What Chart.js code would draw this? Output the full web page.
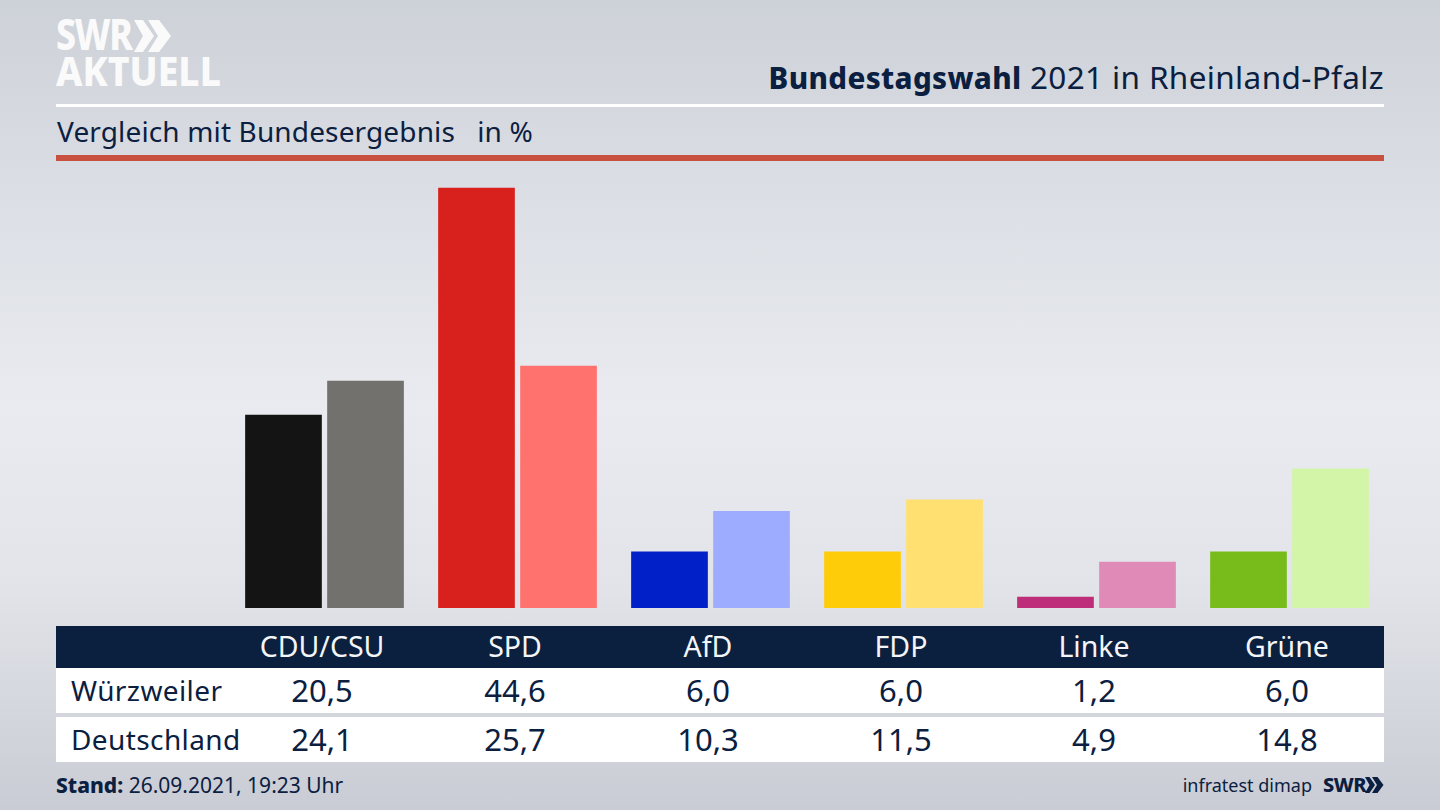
<!DOCTYPE html>
<html lang="de">
<head>
<meta charset="utf-8">
<title>Bundestagswahl 2021 in Rheinland-Pfalz</title>
<script src="https://cdn.jsdelivr.net/npm/chart.js@4"></script>
<style>
  html, body { margin: 0; padding: 0; }
  body {
    position: relative; width: 1440px; height: 810px; overflow: hidden;
    font-family: "Noto Sans", sans-serif; color: #0b2040;
    background: linear-gradient(180deg, #cdd1d8 0%, #dcdfe5 25%, #e9ebf0 50%, #e2e4e9 72%, #c9ccd4 100%);
  }
  .abs { position: absolute; white-space: nowrap; }
  .logo { left: 56px; color: #fafafa; font-weight: 800; line-height: 40px; transform-origin: left; }
  #logoSwr { top: 14px; font-size: 43px; letter-spacing: -1.5px; transform: scaleX(.83); }
  #logoAkt { top: 51px; font-size: 40.6px; transform: scaleX(.92); }
  #chev { left: 134px; top: 20px; }
  #title { right: 56px; top: 57px; font-size: 31.5px; line-height: 40px; letter-spacing: .36px; }
  #title b { font-weight: 800; font-size: 29.5px; }
  #rule1 { left: 56px; top: 104px; width: 1328px; height: 3px; background: #fff; }
  #sub { left: 57px; top: 112px; font-size: 28px; line-height: 38px; letter-spacing: .14px; }
  #rule2 { left: 56px; top: 155px; width: 1328px; height: 6px; background: #c8503f; }
  #chartBox { left: 228px; top: 174px; width: 1158px; height: 434px; }
  #head { left: 56px; top: 626px; width: 1328px; height: 42px; background: #0b203f; }
  .row { left: 56px; width: 1328px; height: 45px; background: #fff; }
  #row1 { top: 668px; }
  #row2 { top: 717px; }
  .cell { position: absolute; top: 0; width: 193px; text-align: center; }
  #head .cell { color: #f4f5f7; font-size: 28.5px; line-height: 41px; }
  .row .cell { font-size: 31px; line-height: 45px; }
  .row .name { position: absolute; left: 15px; top: 0; font-size: 28px; line-height: 45px; letter-spacing: .4px; }
  #stand { left: 56px; top: 770px; font-size: 21px; line-height: 30px; }
  #stand b { font-weight: 800; }
  #src { right: 128px; top: 770px; font-size: 18px; line-height: 30px; }
  #swr2 { left: 1323px; top: 770px; font-size: 20px; line-height: 30px; font-weight: 800; letter-spacing: -.5px; }
  #chev2 { left: 1365px; top: 777px; }
</style>
</head>
<body>
<div class="abs logo" id="logoSwr">SWR</div>
<div class="abs logo" id="logoAkt">AKTUELL</div>
<svg class="abs" id="chev" width="38" height="32" viewBox="0 0 38 32" fill="#fafafa">
  <polygon points="0,0 9,0 20,16 9,32 0,32 9,16"/><polygon points="14,0 25,0 37,16 25,32 14,32 24,16"/>
</svg>
<div class="abs" id="title"><b>Bundestagswahl</b> 2021 in Rheinland-Pfalz</div>
<div class="abs" id="rule1"></div>
<div class="abs" id="sub">Vergleich mit Bundesergebnis&nbsp;&nbsp; in %</div>
<div class="abs" id="rule2"></div>
<div class="abs" id="chartBox"><canvas id="resultChart"></canvas></div>
<div class="abs" id="head"></div>
<div class="abs row" id="row1"></div>
<div class="abs row" id="row2"></div>
<div class="abs" id="stand"><b>Stand:</b> 26.09.2021, 19:23 Uhr</div>
<div class="abs" id="src">infratest dimap</div>
<div class="abs" id="swr2">SWR</div>
<svg class="abs" id="chev2" width="19" height="16" viewBox="0 0 38 32" fill="#0b2040">
  <polygon points="0,0 9,0 20,16 9,32 0,32 9,16"/><polygon points="14,0 25,0 37,16 25,32 14,32 24,16"/>
</svg>
<script>
const parties = ["CDU/CSU", "SPD", "AfD", "FDP", "Linke", "Grüne"];
const wuerzweiler = [20.5, 44.6, 6.0, 6.0, 1.2, 6.0];
const deutschland = [24.1, 25.7, 10.3, 11.5, 4.9, 14.8];
const colorsLocal = ["#141414", "#d8201d", "#0120c8", "#ffcc0a", "#be2d7a", "#78bc1c"];
const colorsFederal = ["#73716e", "#ff726e", "#9eacff", "#ffe070", "#e08ab8", "#d3f5a8"];

new Chart(document.getElementById("resultChart"), {
  type: "bar",
  data: {
    labels: parties,
    datasets: [
      { label: "Würzweiler", data: wuerzweiler, backgroundColor: colorsLocal },
      { label: "Deutschland", data: deutschland, backgroundColor: colorsFederal }
    ]
  },
  options: {
    responsive: true,
    maintainAspectRatio: false,
    animation: false,
    categoryPercentage: 0.85,
    barPercentage: 0.935,
    layout: { padding: 0 },
    plugins: { legend: { display: false }, tooltip: { enabled: false } },
    scales: {
      x: { display: false },
      y: { display: false, min: 0, max: 46.05 }
    }
  }
});

// table under the bars, columns line up with the chart categories
const fmt = v => v.toLocaleString("de-DE", { minimumFractionDigits: 1, maximumFractionDigits: 1 });
function addCells(rowId, list) {
  const row = document.getElementById(rowId);
  list.forEach((txt, i) => {
    const c = document.createElement("div");
    c.className = "cell";
    c.style.left = (169.5 + i * 193) + "px";
    c.textContent = txt;
    row.appendChild(c);
  });
}
function addName(rowId, name) {
  const n = document.createElement("div");
  n.className = "name";
  n.textContent = name;
  document.getElementById(rowId).appendChild(n);
}
addCells("head", parties);
addName("row1", "Würzweiler");
addCells("row1", wuerzweiler.map(fmt));
addName("row2", "Deutschland");
addCells("row2", deutschland.map(fmt));
</script>
</body>
</html>
